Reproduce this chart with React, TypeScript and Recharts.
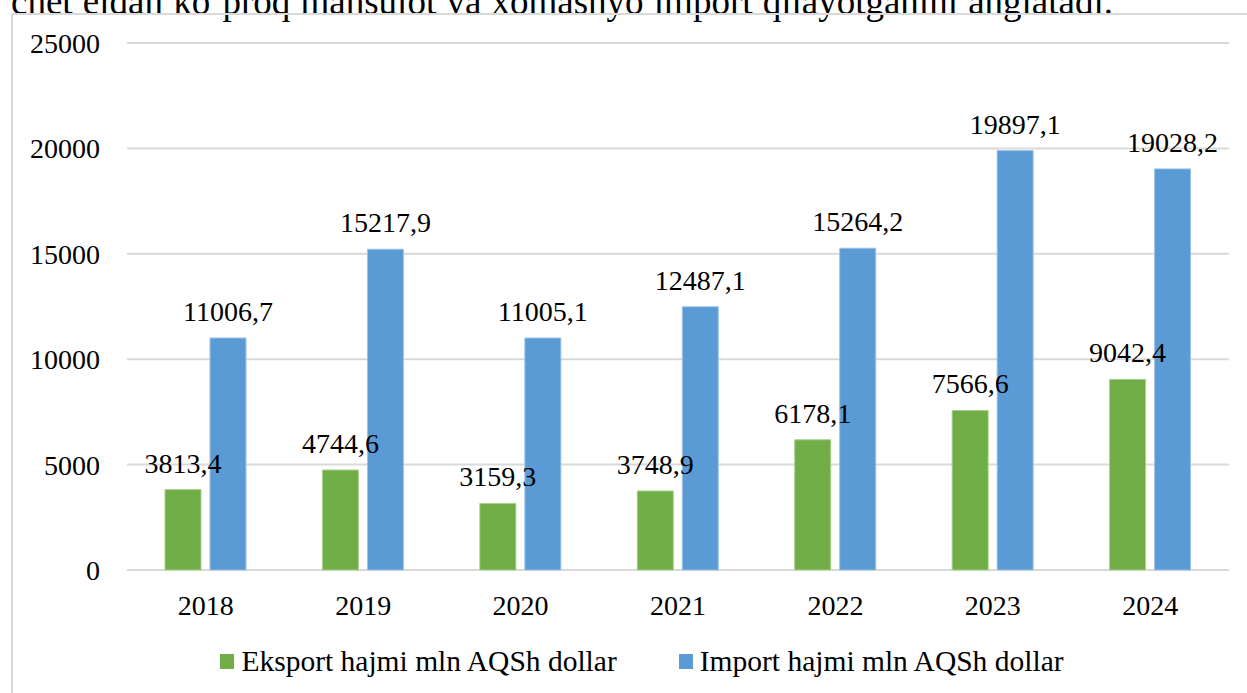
import React from 'react';
import { BarChart, Bar, XAxis, YAxis, CartesianGrid, Legend, LabelList } from 'recharts';

const years = ['2018', '2019', '2020', '2021', '2022', '2023', '2024'];
const exportValues = [3813.4, 4744.6, 3159.3, 3748.9, 6178.1, 7566.6, 9042.4];
const importValues = [11006.7, 15217.9, 11005.1, 12487.1, 15264.2, 19897.1, 19028.2];
const yTicks = [0, 5000, 10000, 15000, 20000, 25000];
const exportName = 'Eksport hajmi mln AQSh dollar';
const importName = 'Import hajmi mln AQSh dollar';
const topText = 'chet eldan ko‘proq mahsulot va xomashyo import qilayotganini anglatadi.';

const data = years.map((y, i) => ({ year: y, exp: exportValues[i], imp: importValues[i] }));

const FONT = '"Liberation Serif", "Times New Roman", serif';
const GREEN = '#70AD47';
const BLUE = '#5B9BD5';
const GRID = '#d9d9d9';

const fmt = (v: any) => Number(v).toFixed(1).replace('.', ',');

const LegendContent = () => (
  <div
    style={{
      height: 32,
      lineHeight: '32px',
      display: 'flex',
      justifyContent: 'center',
      alignItems: 'center',
      paddingLeft: 44,
      fontFamily: FONT,
      fontSize: 29.5,
      color: '#000',
      whiteSpace: 'nowrap',
    }}
  >
    {[{ n: exportName, c: GREEN }, { n: importName, c: BLUE }].map((it, i) => (
      <div key={i} style={{ display: 'flex', alignItems: 'center', marginRight: i === 0 ? 62 : 0 }}>
        <span style={{ display: 'inline-block', width: 14, height: 15, background: it.c, marginRight: 7 }} />
        <span>{it.n}</span>
      </div>
    ))}
  </div>
);

export default function App() {
  return (
    <div style={{ position: 'fixed', inset: 0, overflow: 'hidden', background: '#fff' }}>
      <div
        style={{
          position: 'absolute',
          left: 11,
          top: -17,
          width: 1102,
          fontFamily: FONT,
          fontSize: 37,
          lineHeight: '37px',
          color: '#000',
          whiteSpace: 'nowrap',
          textAlign: 'justify',
          textAlignLast: 'justify' as any,
        }}
      >
        {topText}
      </div>
      <div
        style={{
          position: 'absolute',
          left: 11,
          top: 13,
          width: 1262,
          height: 720,
          border: `2px solid ${GRID}`,
          boxSizing: 'border-box',
        }}
      />
      <div style={{ position: 'absolute', left: 11, top: 13 }}>
        <BarChart
          width={1262}
          height={680}
          data={data}
          margin={{ top: 30, right: 44, left: 0, bottom: 16 }}
          barSize={36}
          barGap={9}
        >
          <CartesianGrid vertical={false} stroke={GRID} strokeWidth={2} />
          <XAxis
            dataKey="year"
            axisLine={false}
            tickLine={false}
            tickMargin={19}
            height={75}
            tick={{ fontFamily: FONT, fontSize: 28, fill: '#000' }}
          />
          <YAxis
            domain={[0, 25000]}
            ticks={yTicks}
            axisLine={false}
            tickLine={false}
            width={116}
            tickMargin={21}
            tick={{ fontFamily: FONT, fontSize: 28, fill: '#000' }}
          />
          <Legend verticalAlign="bottom" height={32} content={<LegendContent />} />
          <Bar dataKey="exp" name={exportName} fill={GREEN} stroke="#a8d08d" strokeWidth={1} isAnimationActive={false}>
            <LabelList dataKey="exp" position="top" offset={17} formatter={fmt} style={{ fontFamily: FONT, fontSize: 28, fill: '#000' }} />
          </Bar>
          <Bar dataKey="imp" name={importName} fill={BLUE} stroke="#9dc3e6" strokeWidth={1} isAnimationActive={false}>
            <LabelList dataKey="imp" position="top" offset={17} formatter={fmt} style={{ fontFamily: FONT, fontSize: 28, fill: '#000' }} />
          </Bar>
        </BarChart>
      </div>
    </div>
  );
}
